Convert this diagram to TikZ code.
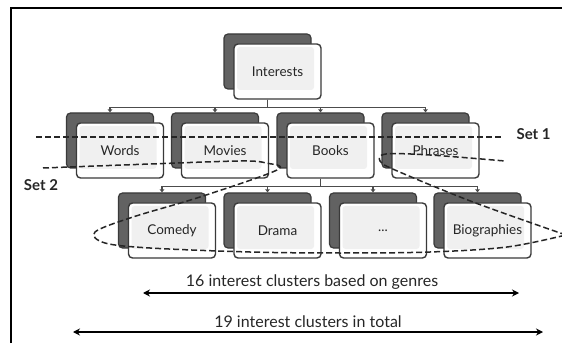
\documentclass[tikz,border=0pt]{standalone}
\usepackage{fontspec}
\setmainfont{Lato}
\usetikzlibrary{positioning,calc,arrows.meta}

\definecolor{cardback}{HTML}{626262}
\definecolor{cardedge}{HTML}{3A3A3A}
\definecolor{cardface}{HTML}{F0F0F0}

\begin{document}
\begin{tikzpicture}[
			x=1pt, y=1pt,
			every node/.style={font=\fontsize{13.5}{15}\selectfont, text=black!85},
			backcard/.style={rectangle, rounded corners=4pt, fill=cardback, draw=cardedge, line width=1.2pt, minimum width=87pt, minimum height=55pt},
			frontcard/.style={rectangle, rounded corners=4pt, fill=white, draw=cardedge, line width=1.4pt, minimum width=87pt, minimum height=55pt,
				path picture={\fill[cardface, rounded corners=3pt] ([shift={(3,-3)}]path picture bounding box.north west) rectangle ([shift={(-7,9)}]path picture bounding box.south east);}},
			link/.style={draw=black!70, line width=1.1pt, -{Triangle[width=4.5pt,length=3pt]}},
			setline/.style={draw=black!85, line width=1.5pt, dash pattern=on 6pt off 3pt},
			setlabel/.style={font=\fontsize{15}{17}\selectfont\bfseries, text=black!85},
			span/.style={line width=1.7pt, {Stealth[length=7pt,width=7pt]}-{Stealth[length=7pt,width=7pt]}},
			spantext/.style={font=\fontsize{16}{18}\selectfont, text=black!85}
			]
			
			\useasboundingbox (0,0) rectangle (562,343);
			\draw[line width=1.8pt] (11,0) -- (11,335) -- (566,335);
			
			% root
			\node[backcard] (interests-b) at (267.5,281.5) {};
			\node[frontcard] (interests) at ($(interests-b)+(10,-10)$) {Interests};
			
			% first level
			\node[backcard] (words-b) at (110,202.5) {};
			\node[frontcard] (words) at ($(words-b)+(10,-10)$) {Words};
			\node[backcard] (movies-b) at (215,202.5) {};
			\node[frontcard] (movies) at ($(movies-b)+(10,-10)$) {Movies};
			\node[backcard] (books-b) at (320.5,202.5) {};
			\node[frontcard] (books) at ($(books-b)+(10,-10)$) {Books};
			\node[backcard] (phrases-b) at (425.5,202.5) {};
			\node[frontcard] (phrases) at ($(phrases-b)+(10,-10)$) {Phrases};
			
			% genres
			\node[backcard] (comedy-b) at (162,122.5) {};
			\node[frontcard] (comedy) at ($(comedy-b)+(10,-10)$) {Comedy};
			\node[backcard] (drama-b) at (267.5,122.5) {};
			\node[frontcard] (drama) at ($(drama-b)+(10,-10)$) {Drama};
			\node[backcard] (more-b) at (373,122.5) {};
			\node[frontcard] (more) at ($(more-b)+(10,-10)$) {...};
			\node[backcard] (bio-b) at (477.5,122.5) {};
			\node[frontcard] (bio) at ($(bio-b)+(10,-10)$) {Biographies};
			
			\draw[link] (interests-b |- interests.south) -- ++(0,-8) -| (words-b.north);
			\draw[link] (interests-b |- interests.south) -- ++(0,-8) -| (movies-b.north);
			\draw[link] (interests-b |- interests.south) -- ++(0,-8) -| (books-b.north);
			\draw[link] (interests-b |- interests.south) -- ++(0,-8) -| (phrases-b.north);
			
			\draw[link] (books-b |- books.south) -- ++(0,-8) -| (comedy-b.north);
			\draw[link] (books-b |- books.south) -- ++(0,-8) -| (drama-b.north);
			\draw[link] (books-b |- books.south) -- ++(0,-8) -| (more-b.north);
			\draw[link] (books-b |- books.south) -- ++(0,-8) -| (bio-b.north);
			
			% the two sets
			\draw[setline] (36,206) -- (502,206);
			\node[setlabel, anchor=west] (set1) at (513,209) {Set 1};
			
			\node[setlabel] (set2) at (41,158) {Set 2};
			\draw[setline] plot[smooth, tension=0.55] coordinates {(43,175) (150,179) (240,182) (266,180) (277,173) (200,146) (133,126) (95,111) (105,100) (150,95) (250,91) (340,90) (430,91) (507,96) (566,108)};
			\draw[setline] plot[smooth, tension=0.55] coordinates {(566,108) (473,141) (395,173) (380,182) (386,189) (430,188) (505,182)};
			
			% spans
			\coordinate (genre-l) at (143,50);
			\coordinate (genre-r) at (519,50);
			\draw[span] (genre-l) -- (genre-r);
			\node[spantext] (genre-txt) at (312,61) {16 interest clusters based on genres};
			
			\coordinate (total-l) at (73,11);
			\coordinate (total-r) at (543,11);
			\draw[span] (total-l) -- (total-r);
			\node[spantext] (total-txt) at (308,21) {19 interest clusters in total};
			\end{tikzpicture}
\end{document}
